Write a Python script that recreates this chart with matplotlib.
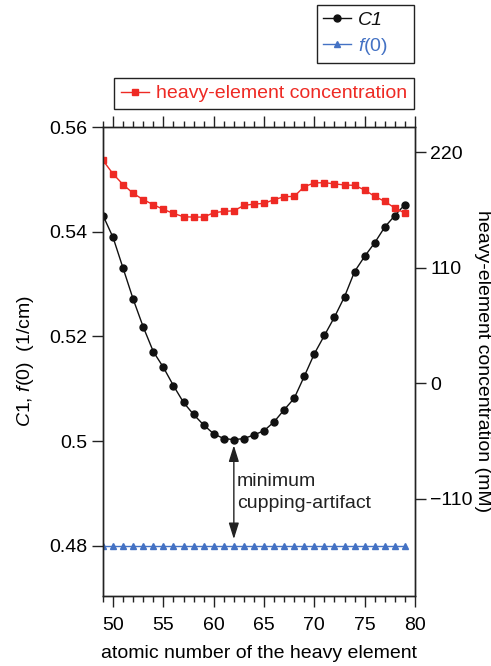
import matplotlib
matplotlib.use("Agg")
import matplotlib.pyplot as plt
import numpy as np
from matplotlib.ticker import FixedLocator, MultipleLocator

plt.rcParams["font.family"] = ["Liberation Sans", "DejaVu Sans"]
plt.rcParams["mathtext.fontset"] = "custom"
plt.rcParams["mathtext.rm"] = "Liberation Sans"
plt.rcParams["mathtext.it"] = "Liberation Sans:italic"

# atomic number of the heavy element
atomic_number = list(range(49, 80))

# C1 (1/cm)
c1 = [0.5431, 0.5389, 0.5330, 0.5271, 0.5218, 0.5171, 0.5141, 0.5106,
      0.5074, 0.5051, 0.5031, 0.5014, 0.5005, 0.5003, 0.5005, 0.5012,
      0.5020, 0.5037, 0.5060, 0.5082, 0.5124, 0.5167, 0.5202, 0.5237,
      0.5276, 0.5324, 0.5353, 0.5379, 0.5409, 0.5431, 0.5452]

# f(0) (1/cm)
f0 = [0.48] * 31

# heavy-element concentration (mM)
concentration = [212.1, 199.3, 189.1, 180.8, 174.8, 170.0, 165.5, 161.7,
                 158.5, 158.2, 158.2, 162.3, 163.6, 164.2, 169.3, 170.6,
                 171.2, 174.8, 177.6, 177.9, 187.2, 190.7, 191.0, 189.8,
                 188.8, 188.4, 184.0, 177.9, 173.1, 166.8, 162.0]

left_ticks = [0.48, 0.50, 0.52, 0.54, 0.56]
left_labels = ["0.48", "0.5", "0.52", "0.54", "0.56"]
right_ticks = [-110, 0, 110, 220]

red = "#ee2a24"
blue = "#4472c4"
ink = "#222222"
fs = 14
W, H = 491, 666

fig = plt.figure(figsize=(W / 100, H / 100), dpi=100)
ax = fig.add_axes([0.2098, 0.1056, 0.6354, 0.7037])
ax2 = ax.twinx()

l1, = ax.plot(atomic_number, c1, color="#111111", lw=1, marker="o",
              markersize=5, label="C1")
l2, = ax.plot(atomic_number, f0, color=blue, lw=1, marker="^",
              markersize=5, label=r"$\mathit{f}$(0)")
l3, = ax2.plot(atomic_number, concentration, color=red, lw=1, marker="s",
               markersize=5, label="heavy-element concentration")

ax.set_xlim(49, 80)
ax.set_ylim(0.4705, 0.56)
ax2.set_ylim(-202.5, 244)

ax.xaxis.set_major_locator(MultipleLocator(5))
ax.xaxis.set_minor_locator(MultipleLocator(1))
ax.yaxis.set_major_locator(FixedLocator(left_ticks))
ax.set_yticklabels(left_labels)
ax2.yaxis.set_major_locator(FixedLocator(right_ticks))

ax.tick_params(axis="x", which="major", direction="out", length=8, width=1,
               top=True, labelsize=fs, pad=7, color=ink)
ax.tick_params(axis="x", which="minor", direction="out", length=4, width=1,
               top=True, color=ink)
ax.tick_params(axis="y", direction="out", length=8, width=1, labelsize=fs,
               pad=3, color=ink)
ax2.tick_params(axis="y", direction="out", length=8, width=1, labelsize=fs,
                pad=3, color=ink)
for a in (ax, ax2):
    for s in a.spines.values():
        s.set_linewidth(1)
        s.set_color(ink)

ax.set_xlabel("atomic number of the heavy element", fontsize=fs,
              labelpad=8)
ax.set_ylabel(r"$\mathit{C1}$, $\mathit{f}$(0)  (1/cm)", fontsize=fs,
              labelpad=10)
ax2.set_ylabel("heavy-element concentration (mM)", fontsize=fs,
               rotation=270, labelpad=13)

ax.annotate("", xy=(62, 0.4992), xytext=(62, 0.4813),
            arrowprops=dict(arrowstyle="<|-|>,head_length=0.7,head_width=0.22",
                            color=ink, lw=1, mutation_scale=14,
                            shrinkA=0, shrinkB=0))
ax.text(62.3, 0.4940, "minimum\ncupping-artifact", fontsize=fs,
        va="top", ha="left", linespacing=1.4, color=ink)

leg_kw = dict(loc="upper left", mode="expand", bbox_transform=fig.transFigure,
              borderaxespad=0, fancybox=False, edgecolor=ink, framealpha=1,
              fontsize=fs, handlelength=1.45, handletextpad=0.35,
              labelcolor="linecolor")
leg1 = fig.legend(handles=[l1, l2],
                  bbox_to_anchor=(317 / W, 1 - 66 / H, 97 / W, 61 / H),
                  labelspacing=0.38, borderpad=0.32, **leg_kw)
leg1.get_frame().set_linewidth(1)
leg1.get_texts()[0].set_fontstyle("italic")
leg2 = fig.legend(handles=[l3],
                  bbox_to_anchor=(114 / W, 1 - 108 / H, 300 / W, 30 / H),
                  borderpad=0.35, **leg_kw)
leg2.get_frame().set_linewidth(1)

fig.savefig("out.png", dpi=100)
